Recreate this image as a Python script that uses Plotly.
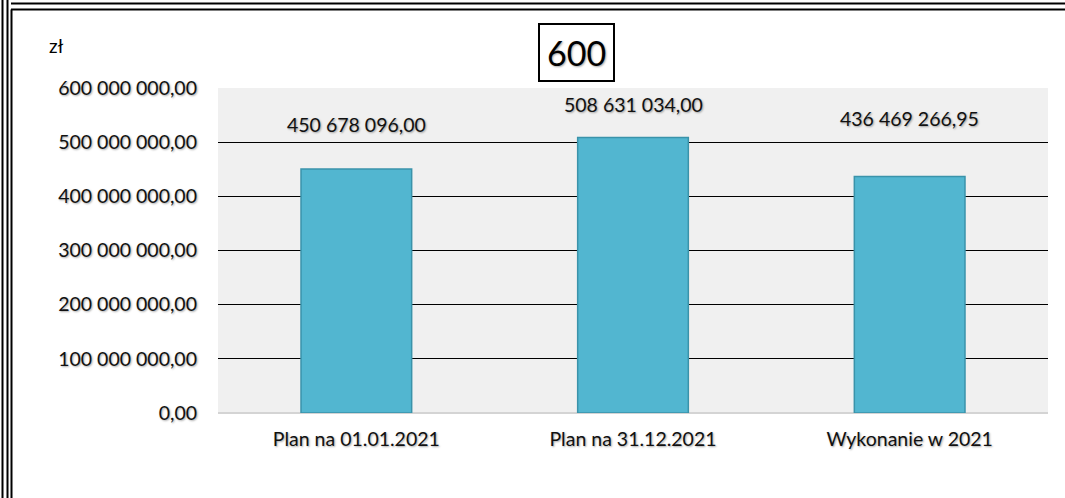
import plotly.graph_objects as go

# dane z wykresu
categories = ["Plan na 01.01.2021", "Plan na 31.12.2021", "Wykonanie w 2021"]
values = [450678096.00, 508631034.00, 436469266.95]
value_labels = ["450 678 096,00", "508 631 034,00", "436 469 266,95"]
tick_vals = [0, 100e6, 200e6, 300e6, 400e6, 500e6, 600e6]
tick_text = ["0,00", "100 000 000,00", "200 000 000,00", "300 000 000,00",
             "400 000 000,00", "500 000 000,00", "600 000 000,00"]

# przesunięcia etykiet (w pikselach) jak w oryginale
label_shift = [44, 33, 58]

W, H = 1065, 498
L, R, T, B = 218, 17, 88, 85
pw, ph = W - L - R, H - T - B

def px_x(x):
    return (x - L) / pw

def px_y(y):
    return (H - B - y) / ph

FONT = "Lato, 'Open Sans', sans-serif"
SHADOW = "1px 1px 2px rgba(0,0,0,0.35)"
FS = 19.5

fig = go.Figure()
fig.add_trace(go.Bar(
    x=categories, y=values, width=0.4,
    marker=dict(color="#52b6d0", line=dict(color="#3a93aa", width=1.5)),
    showlegend=False, hoverinfo="skip",
))

# etykiety wartości nad słupkami
for c, v, t, s in zip(categories, values, value_labels, label_shift):
    fig.add_annotation(x=c, y=v, text=t, showarrow=False, yshift=s,
                       font=dict(size=FS, color="#111", family=FONT, shadow=SHADOW))

fig.add_annotation(x=px_x(576), y=px_y(53), xref="paper", yref="paper", text="600",
                   xanchor="center", yanchor="middle",
                   showarrow=False, bordercolor="black", borderwidth=2, borderpad=7,
                   font=dict(size=34, color="black", family=FONT, shadow=SHADOW))
fig.add_annotation(x=px_x(56), y=px_y(46), xref="paper", yref="paper", text="zł",
                   xanchor="center", yanchor="middle",
                   showarrow=False, font=dict(size=19, color="black", family=FONT))

# ramki
lines = [
    (2.5, 0, 2.5, H), (7.5, 0, 7.5, H), (11.5, 9.5, 11.5, H),
    (11, 3.5, W, 3.5), (11, 9.5, W, 9.5),
]
for x0, y0, x1, y1 in lines:
    fig.add_shape(type="line", xref="paper", yref="paper",
                  x0=px_x(x0), y0=px_y(y0), x1=px_x(x1), y1=px_y(y1),
                  line=dict(color="black", width=2))

fig.update_xaxes(showgrid=False, showline=False, ticks="", ticklabelstandoff=12,
                 tickfont=dict(size=FS, color="#111", family=FONT, shadow=SHADOW))
fig.update_yaxes(range=[0, 600e6], tickvals=tick_vals, ticktext=tick_text,
                 showgrid=True, gridcolor="black", gridwidth=1,
                 zeroline=True, zerolinecolor="#d4d4d4", zerolinewidth=2,
                 showline=False, ticks="", ticklabelstandoff=20,
                 tickfont=dict(size=FS, color="#111", family=FONT, shadow=SHADOW))

fig.update_layout(width=W, height=H, margin=dict(l=L, r=R, t=T, b=B),
                  plot_bgcolor="#f0f0f0", paper_bgcolor="white", bargap=0.6)

fig.write_html("out.html", config={"displayModeBar": False},
               post_script="document.body.style.margin='0px';")
